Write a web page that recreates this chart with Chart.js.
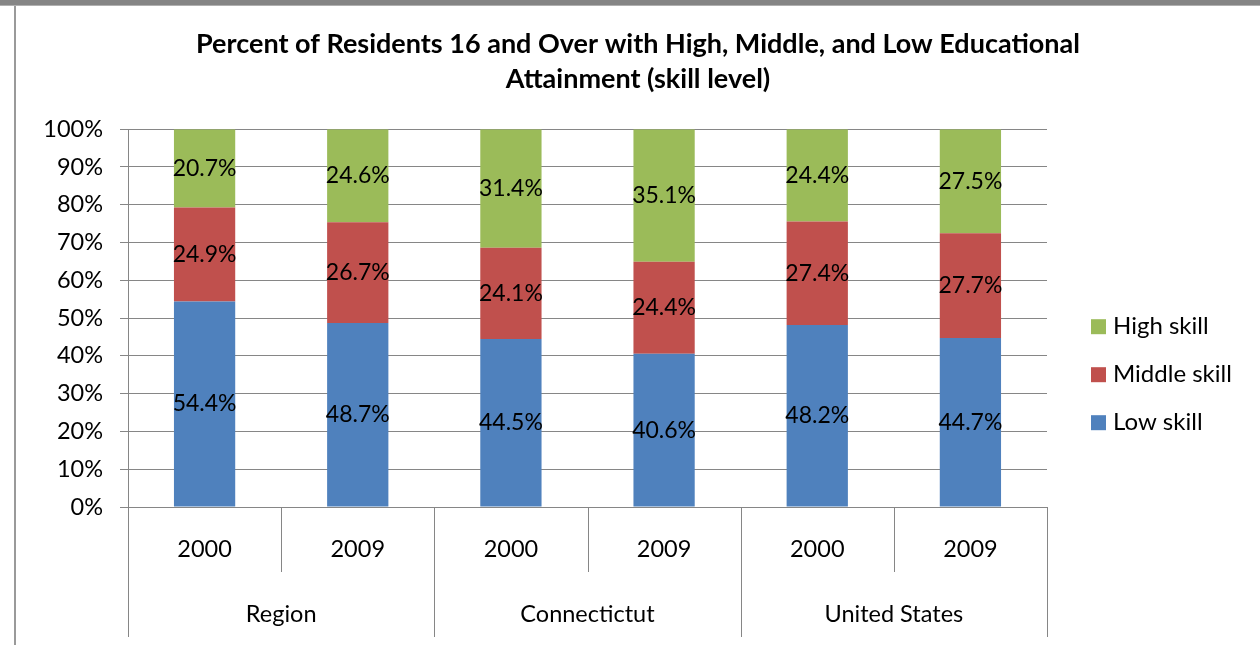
<!DOCTYPE html>
<html>
<head>
<meta charset="utf-8">
<script src="https://cdn.jsdelivr.net/npm/chart.js@4"></script>
<style>
  html, body { margin: 0; padding: 0; background: #fff; width: 1260px; height: 645px; overflow: hidden; }
  #topbar { position: absolute; left: 0; top: 0; width: 1260px; height: 5px; background: #858585; }
  #topline { position: absolute; left: 0; top: 5px; width: 1260px; height: 1px; background: #b0b0b0; }
  #leftline { position: absolute; left: 14px; top: 6px; width: 2px; height: 639px; background: #9a9a9a; }
  #wrap { position: absolute; left: 16px; top: 6px; width: 1244px; height: 639px; }
</style>
</head>
<body>
<div id="topbar"></div>
<div id="topline"></div>
<div id="leftline"></div>
<div id="wrap"><canvas id="c" width="1244" height="639"></canvas></div>
<script>
const years = ['2000', '2009', '2000', '2009', '2000', '2009'];
const groups = ['Region', 'Connectictut', 'United States'];
const lowSkill = [54.4, 48.7, 44.5, 40.6, 48.2, 44.7];
const middleSkill = [24.9, 26.7, 24.1, 24.4, 27.4, 27.7];
const highSkill = [20.7, 24.6, 31.4, 35.1, 24.4, 27.5];
const yTicks = [0, 10, 20, 30, 40, 50, 60, 70, 80, 90, 100];
const titleLines = ['Percent of Residents 16 and Over with High, Middle, and Low Educational', 'Attainment (skill level)'];

const FONT = 'Lato, "Open Sans", sans-serif';
const GRID = '#868686';

// 100% stacked: scale each bar to its total
const totals = years.map((_, i) => lowSkill[i] + middleSkill[i] + highSkill[i]);
const share = arr => arr.map((v, i) => v / totals[i] * 100);

const raw = [lowSkill, middleSkill, highSkill];

const labelPlugin = {
  id: 'segLabels',
  afterDatasetsDraw(chart) {
    const ctx = chart.ctx;
    ctx.save();
    ctx.font = '23px ' + FONT;
    ctx.fillStyle = '#000';
    ctx.textAlign = 'center';
    ctx.textBaseline = 'middle';
    chart.data.datasets.forEach((ds, di) => {
      chart.getDatasetMeta(di).data.forEach((bar, i) => {
        const y = (bar.y + bar.base) / 2;
        ctx.fillText(raw[di][i].toFixed(1) + '%', bar.x, y);
      });
    });
    ctx.restore();
  }
};

const xAxisPlugin = {
  id: 'multiAxis',
  afterDraw(chart) {
    const ctx = chart.ctx;
    const xs = chart.scales.x;
    const area = chart.chartArea;
    const n = years.length;
    const step = (area.right - area.left) / n;
    ctx.save();
    ctx.strokeStyle = GRID;
    ctx.lineWidth = 1;
    for (let i = 0; i <= n; i++) {
      const x = Math.round(i < n ? xs.getPixelForValue(i) - step / 2 : xs.getPixelForValue(n - 1) + step / 2) + 0.5;
      const len = (i % 2 === 0) ? 130 : 65;
      ctx.beginPath();
      ctx.moveTo(x, area.bottom);
      ctx.lineTo(x, area.bottom + len);
      ctx.stroke();
    }
    ctx.font = '23.5px ' + FONT;
    ctx.fillStyle = '#000';
    ctx.textAlign = 'center';
    ctx.textBaseline = 'middle';
    years.forEach((y, i) => ctx.fillText(y, xs.getPixelForValue(i), area.bottom + 42));
    groups.forEach((g, gi) => {
      const x = (xs.getPixelForValue(gi * 2) + xs.getPixelForValue(gi * 2 + 1)) / 2;
      ctx.fillText(g, x, area.bottom + 107);
    });
    ctx.restore();
  }
};

const legendPlugin = {
  id: 'sideLegend',
  afterDraw(chart) {
    const ctx = chart.ctx;
    const area = chart.chartArea;
    const items = chart.data.datasets.map(d => ({ label: d.label, color: d.backgroundColor })).reverse();
    ctx.save();
    ctx.font = '24px ' + FONT;
    ctx.textBaseline = 'middle';
    ctx.textAlign = 'left';
    items.forEach((it, k) => {
      const cy = area.top + 197 + k * 48;
      const bx = area.right + 44;
      ctx.fillStyle = it.color;
      ctx.fillRect(bx, cy - 7, 15, 15);
      ctx.fillStyle = '#000';
      ctx.fillText(it.label, bx + 22, cy);
    });
    ctx.restore();
  }
};

new Chart(document.getElementById('c'), {
  type: 'bar',
  data: {
    labels: years,
    datasets: [
      { label: 'Low skill', data: share(lowSkill), backgroundColor: '#4F81BD' },
      { label: 'Middle skill', data: share(middleSkill), backgroundColor: '#C0504D' },
      { label: 'High skill', data: share(highSkill), backgroundColor: '#9BBB59' }
    ]
  },
  options: {
    responsive: false,
    animation: false,
    events: [],
    layout: { padding: { left: 0, right: 0, top: 21, bottom: 8 } },
    datasets: { bar: { categoryPercentage: 1.0, barPercentage: 0.4 } },
    plugins: {
      legend: { display: false },
      tooltip: { enabled: false },
      title: {
        display: true,
        text: titleLines,
        color: '#000',
        font: { family: FONT, size: 27, weight: 'bold', lineHeight: 1.3 },
        padding: { top: 0, bottom: 32 }
      }
    },
    scales: {
      x: {
        stacked: true,
        grid: { display: false },
        border: { display: false },
        ticks: { display: false },
        afterFit: s => { s.height = 130; }
      },
      y: {
        stacked: true,
        min: 0,
        max: 100,
        afterBuildTicks: s => { s.ticks = yTicks.map(v => ({ value: v })); },
        afterFit: s => { s.width = 112; },
        grid: { color: GRID, lineWidth: 1, tickLength: 8, drawTicks: true },
        border: { display: true, color: GRID, width: 1 },
        ticks: {
          padding: 17,
          color: '#000',
          font: { family: FONT, size: 23.5 },
          callback: v => v + '%'
        }
      },
      legendSpace: {
        position: 'right',
        display: true,
        grid: { display: false },
        border: { display: false },
        ticks: { display: false },
        afterFit: s => { s.width = 213; }
      }
    }
  },
  plugins: [labelPlugin, xAxisPlugin, legendPlugin]
});
</script>
</body>
</html>
